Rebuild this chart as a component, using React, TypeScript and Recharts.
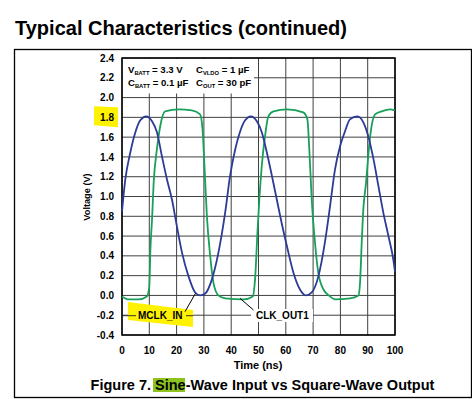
import React from "react";
import {
  CartesianGrid,
  Line,
  LineChart,
  ReferenceArea,
  XAxis,
  YAxis,
} from "recharts";

const FONT = '"Liberation Sans", Arial, Helvetica, sans-serif';

const xTicks = [0, 10, 20, 30, 40, 50, 60, 70, 80, 90, 100];
const yTicks = [-0.4, -0.2, 0, 0.2, 0.4, 0.6, 0.8, 1.0, 1.2, 1.4, 1.6, 1.8, 2.0, 2.2, 2.4];

// MCLK_IN (sine input), time in ns / volts
const mclkTime = [
  0, 1.2, 3, 4.9, 6.7, 8.9, 11, 12.8, 14.6, 16.5, 18.3, 20.1, 22, 24.4, 26.8,
  28.6, 30.5, 32.9, 35.3, 37.8, 39.6, 41.5, 43.3, 45.1, 47.2, 49.4, 51.2, 53.1,
  54.9, 56.7, 58.5, 60.4, 62.8, 65.2, 67.4, 69.5, 71.9, 74.4, 76.2, 78, 79.9,
  81.7, 83.5, 86.2, 88.4, 90.2, 92.1, 93.9, 95.7, 97.6, 99.4, 100,
];
const mclkVolt = [
  0.85, 1.17, 1.44, 1.65, 1.77, 1.81, 1.76, 1.65, 1.41, 1.17, 0.97, 0.7, 0.43,
  0.19, 0.03, 0.0, 0.02, 0.16, 0.43, 0.84, 1.21, 1.48, 1.66, 1.77, 1.81, 1.76,
  1.65, 1.44, 1.21, 0.97, 0.73, 0.5, 0.23, 0.06, 0.0, 0.03, 0.19, 0.55, 0.9,
  1.27, 1.51, 1.66, 1.78, 1.81, 1.75, 1.61, 1.38, 1.11, 0.84, 0.6, 0.36, 0.24,
];

// CLK_OUT1 (square output)
const clkTime = [
  0, 2.4, 6.1, 9.1, 10, 10.4, 11, 11.6, 12.8, 14, 15.8, 20.7, 25.6, 28.6, 29.5,
  30.2, 31.1, 32.3, 33.5, 35.3, 37.8, 44.5, 47.9, 48.8, 49.6, 50.3, 51.2, 52.4,
  53.6, 55.5, 60.4, 66.4, 67.9, 68.6, 69.5, 70.7, 71.9, 73.8, 76.2, 78, 83.5,
  86.6, 87.2, 87.8, 88.4, 89.4, 90.2, 91.1, 92.7, 95.1, 98.2, 100,
];
const clkVolt = [
  -0.01, -0.04, -0.04, -0.01, 0.09, 0.46, 0.77, 1.14, 1.48, 1.71, 1.86, 1.88,
  1.87, 1.83, 1.68, 1.31, 0.8, 0.4, 0.13, 0.0, -0.03, -0.04, -0.01, 0.19, 0.63,
  0.97, 1.31, 1.61, 1.81, 1.86, 1.88, 1.85, 1.78, 1.48, 0.97, 0.53, 0.23, 0.06,
  -0.01, -0.04, -0.03, 0.0, 0.13, 0.53, 0.87, 1.14, 1.41, 1.65, 1.83, 1.86,
  1.88, 1.87,
];

const mclkData = mclkTime.map((t, i) => ({ t, v: mclkVolt[i] }));
const clkData = clkTime.map((t, i) => ({ t, v: clkVolt[i] }));

const YTick = (props: any) => {
  const { x, y, payload } = props;
  const v = payload.value as number;
  return (
    <g>
      {v === 1.8 && (
        <polygon
          points={`${x - 20},${y - 11} ${x + 4},${y - 10} ${x + 4},${y + 10} ${x - 20},${y + 8}`}
          fill="#FFF200"
        />
      )}
      <text
        x={x}
        y={y}
        dy={3.6}
        textAnchor="end"
        fontSize={10}
        fontWeight={700}
        fontFamily={FONT}
        fill="#000"
      >
        {v.toFixed(1)}
      </text>
    </g>
  );
};

const bold = { fontFamily: FONT, fontWeight: 700, fill: "#000" };

export default function App() {
  return (
    <div
      style={{
        position: "absolute",
        left: 0,
        top: 0,
        width: 472,
        height: 399,
        background: "#fff",
      }}
    >
      <LineChart
        width={472}
        height={399}
        margin={{ top: 58, right: 77, bottom: 34, left: 0 }}
      >
        <CartesianGrid stroke="#404040" strokeWidth={1} />
        <XAxis
          type="number"
          dataKey="t"
          domain={[0, 100]}
          ticks={xTicks}
          interval={0}
          height={30}
          tickLine={false}
          axisLine={false}
          tickMargin={6}
          tick={{ fontSize: 10, fontWeight: 700, fill: "#000", fontFamily: FONT }}
        />
        <YAxis
          type="number"
          dataKey="v"
          domain={[-0.4, 2.4]}
          ticks={yTicks}
          interval={0}
          width={122}
          tickLine={false}
          axisLine={false}
          tick={<YTick />}
        />
        <Line
          data={clkData}
          dataKey="v"
          type="monotone"
          stroke="#17A058"
          strokeWidth={1.8}
          dot={false}
          isAnimationActive={false}
        />
        <Line
          data={mclkData}
          dataKey="v"
          type="monotone"
          stroke="#2D3A96"
          strokeWidth={1.8}
          dot={false}
          isAnimationActive={false}
        />
        <ReferenceArea
          x1={0}
          x2={100}
          y1={-0.4}
          y2={2.4}
          fill="none"
          stroke="#000"
          strokeWidth={1.5}
          ifOverflow="visible"
        />
      </LineChart>

      <svg
        width={472}
        height={399}
        style={{ position: "absolute", left: 0, top: 0, pointerEvents: "none" }}
      >
        <text x={15} y={35} fontSize={20} {...bold}>
          Typical Characteristics (continued)
        </text>
        <rect x={14.5} y={49.5} width={457} height={348} fill="none" stroke="#000" strokeWidth={1.3} />

        {/* conditions box */}
        <rect x={123} y={59} width={131} height={34.5} fill="#fff" />
        <text x={128} y={73} fontSize={9.6} {...bold}>
          V<tspan fontSize={5.8} dy={2}>BATT</tspan>
          <tspan dy={-2}> = 3.3 V</tspan>
        </text>
        <text x={196} y={73} fontSize={9.6} {...bold}>
          C<tspan fontSize={5.8} dy={2}>VLDO</tspan>
          <tspan dy={-2}> = 1 µF</tspan>
        </text>
        <text x={128} y={86} fontSize={9.6} {...bold}>
          C<tspan fontSize={5.8} dy={2}>BATT</tspan>
          <tspan dy={-2}> = 0.1 µF</tspan>
        </text>
        <text x={196} y={86} fontSize={9.6} {...bold}>
          C<tspan fontSize={5.8} dy={2}>OUT</tspan>
          <tspan dy={-2}> = 30 pF</tspan>
        </text>

        {/* series labels */}
        <polygon points="128,302 193,310 193,327 128,320" fill="#FFF200" />
        <line x1={123} y1={315.7} x2={136} y2={315.7} stroke="#333" strokeWidth={1} />
        <line x1={186} y1={315.7} x2={193} y2={315.7} stroke="#333" strokeWidth={1} />
        <text x={138} y={319.4} fontSize={10} {...bold}>MCLK_IN</text>
        <line x1={185} y1={311.7} x2={195.5} y2={293.3} stroke="#000" strokeWidth={1} />

        <rect x={251} y={309} width={62} height={13} fill="#fff" />
        <text x={256} y={319.4} fontSize={10} {...bold}>CLK_OUT1</text>
        <line x1={240} y1={298.3} x2={253.5} y2={310} stroke="#000" strokeWidth={1} />

        {/* axis titles */}
        <text x={258} y={369} fontSize={11} textAnchor="middle" {...bold}>
          Time (ns)
        </text>
        <text
          transform="translate(90,197) rotate(-90)"
          fontSize={9.2}
          textAnchor="middle"
          {...bold}
        >
          Voltage (V)
        </text>

        {/* caption */}
        <rect x={153} y={378} width={32} height={14} fill="#8DC21F" />
        <text x={262.5} y={390} fontSize={14.5} textAnchor="middle" {...bold}>
          Figure 7. Sine-Wave Input vs Square-Wave Output
        </text>
      </svg>
    </div>
  );
}
